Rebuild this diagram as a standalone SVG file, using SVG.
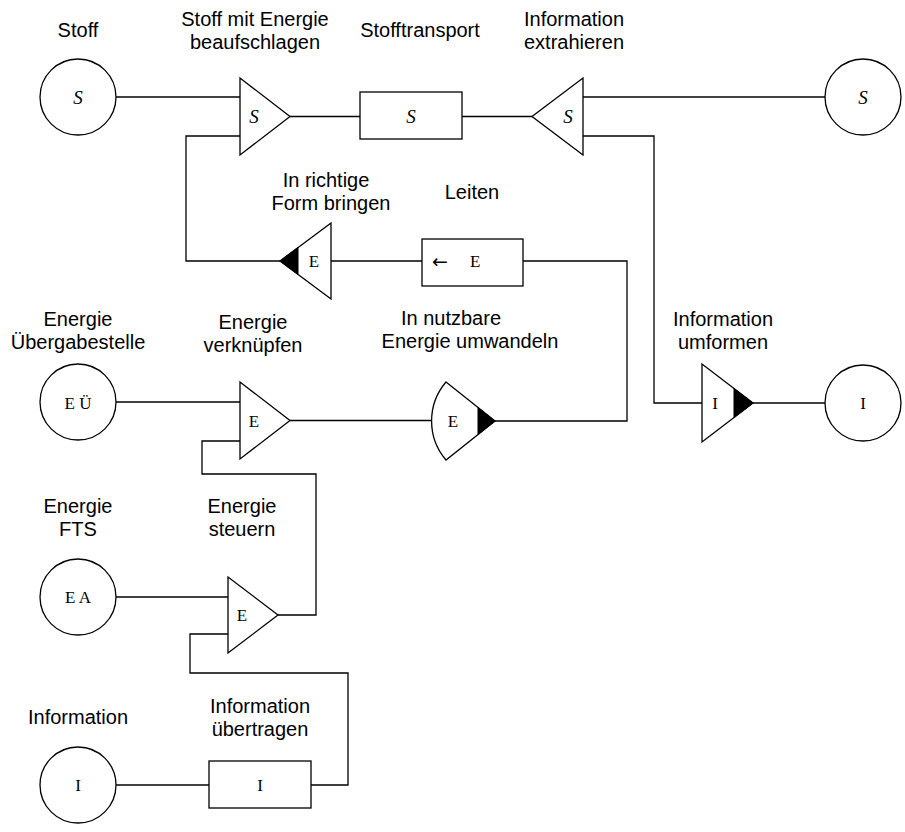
<svg xmlns="http://www.w3.org/2000/svg" width="905" height="832" viewBox="0 0 905 832">
<style>
.s{fill:#fff;stroke:#000;stroke-width:1.3}
.f{fill:#000;stroke:#000;stroke-width:1}
.c{fill:none;stroke:#000;stroke-width:1.3}
.lb{font-family:"Liberation Sans",Arial,Helvetica,sans-serif;font-size:20px;fill:#000;text-anchor:middle}
.sym{font-family:"Liberation Serif","DejaVu Serif",serif;font-size:17px;fill:#000;text-anchor:middle;dominant-baseline:central}
.it{font-style:italic;font-size:19px}
.ar{font-family:"DejaVu Sans",sans-serif;font-size:19px}
</style>
<rect width="905" height="832" fill="#fff"/>
<g id="connectors">
<path class="c" d="M116,97 H240"/>
<path class="c" d="M290,116.5 H360"/>
<path class="c" d="M462,116.5 H532"/>
<path class="c" d="M583,97 H825"/>
<path class="c" d="M583,136 H654 V403 H702"/>
<path class="c" d="M240,136 H186 V261 H280"/>
<path class="c" d="M331,261 H422"/>
<path class="c" d="M523,261 H627 V421 H495"/>
<path class="c" d="M753,403 H825"/>
<path class="c" d="M116,402 H240"/>
<path class="c" d="M290,420.5 H432"/>
<path class="c" d="M240,441 H202 V474 H316 V615 H278"/>
<path class="c" d="M116,597 H228"/>
<path class="c" d="M228,634 H190 V673 H348 V785 H311"/>
<path class="c" d="M116,785 H209"/>
</g>
<g id="stoff-in">
<circle class="s" cx="78" cy="97" r="38"/>
<text class="sym it" x="78" y="97">S</text>
<text class="lb" x="78" y="37">Stoff</text>
</g>
<g id="stoff-beaufschlagen">
<polygon class="s" points="240,78 240,155 290,116.5"/>
<text class="sym it" x="254" y="116.5">S</text>
<text class="lb" x="255" y="26">Stoff mit Energie</text>
<text class="lb" x="255" y="49">beaufschlagen</text>
</g>
<g id="stofftransport">
<rect class="s" x="360" y="92" width="102" height="47"/>
<text class="sym it" x="411" y="116">S</text>
<text class="lb" x="420" y="37">Stofftransport</text>
</g>
<g id="info-extrahieren">
<polygon class="s" points="583,78 583,155 532,116.5"/>
<text class="sym it" x="568" y="116.5">S</text>
<text class="lb" x="574" y="26">Information</text>
<text class="lb" x="574" y="49">extrahieren</text>
</g>
<g id="stoff-out">
<circle class="s" cx="863" cy="97" r="38"/>
<text class="sym it" x="863" y="97">S</text>
</g>
<g id="form-bringen">
<polygon class="s" points="331,223 331,299 280,261"/>
<polygon class="f" points="280,261 298,247.5 298,274.5"/>
<text class="sym" x="314" y="261">E</text>
<text class="lb" x="326" y="187">In richtige</text>
<text class="lb" x="331" y="210">Form bringen</text>
</g>
<g id="leiten">
<rect class="s" x="422" y="239" width="101" height="47"/>
<text class="sym" y="261"><tspan class="ar" x="440">←</tspan><tspan x="473"> E</tspan></text>
<text class="lb" x="472" y="199">Leiten</text>
</g>
<g id="energie-uebergabe">
<circle class="s" cx="78" cy="402" r="38"/>
<text class="sym" x="78" y="403">E Ü</text>
<text class="lb" x="78" y="326">Energie</text>
<text class="lb" x="78" y="349">Übergabestelle</text>
</g>
<g id="energie-verknuepfen">
<polygon class="s" points="240,382 240,459 290,420.5"/>
<text class="sym" x="254" y="421">E</text>
<text class="lb" x="253" y="329">Energie</text>
<text class="lb" x="253" y="352">verknüpfen</text>
</g>
<g id="energie-umwandeln">
<path class="s" d="M446,382 L495,421 L446,460 A60,60 0 0 1 446,382 Z"/>
<polygon class="f" points="478,407.5 495,421 478,434.5"/>
<text class="sym" x="453" y="421">E</text>
<text class="lb" x="451" y="325">In nutzbare</text>
<text class="lb" x="470" y="348">Energie umwandeln</text>
</g>
<g id="info-umformen">
<polygon class="s" points="702,364 702,442 753,403"/>
<polygon class="f" points="734,388.5 753,403 734,417.5"/>
<text class="sym" x="715" y="403">I</text>
<text class="lb" x="723" y="326">Information</text>
<text class="lb" x="723" y="349">umformen</text>
</g>
<g id="info-out">
<circle class="s" cx="863" cy="403" r="38"/>
<text class="sym" x="863" y="403">I</text>
</g>
<g id="energie-fts">
<circle class="s" cx="78" cy="597" r="38"/>
<text class="sym" x="78" y="597">E A</text>
<text class="lb" x="78" y="513">Energie</text>
<text class="lb" x="78" y="536">FTS</text>
</g>
<g id="energie-steuern">
<polygon class="s" points="228,577 228,653 278,615"/>
<text class="sym" x="242" y="615">E</text>
<text class="lb" x="242" y="513">Energie</text>
<text class="lb" x="242" y="536">steuern</text>
</g>
<g id="info-in">
<circle class="s" cx="78" cy="785" r="38"/>
<text class="sym" x="78" y="785">I</text>
<text class="lb" x="78" y="724">Information</text>
</g>
<g id="info-uebertragen">
<rect class="s" x="209" y="761" width="102" height="47"/>
<text class="sym" x="260" y="785">I</text>
<text class="lb" x="260" y="713">Information</text>
<text class="lb" x="260" y="736">übertragen</text>
</g>
</svg>
